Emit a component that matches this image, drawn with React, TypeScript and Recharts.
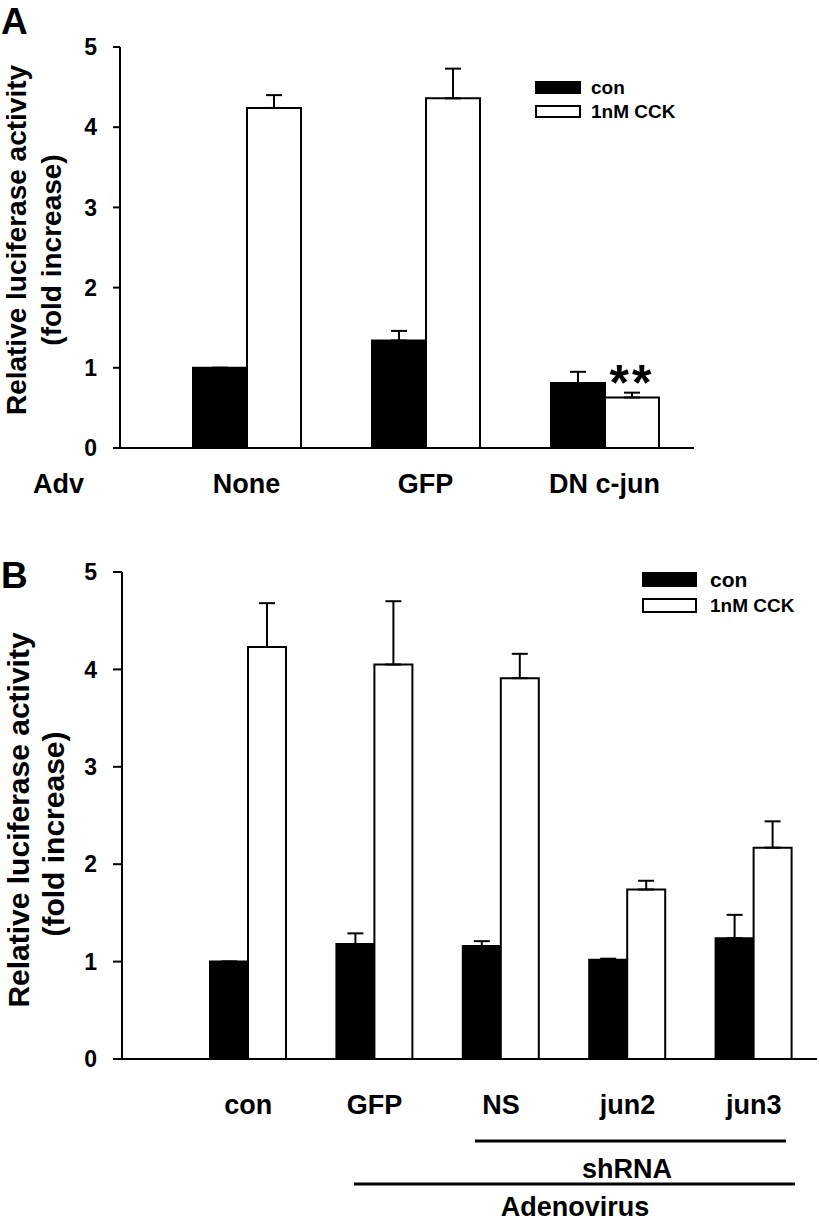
import React from 'react';
import { BarChart, Bar, XAxis, YAxis, ErrorBar, LabelList, Legend } from 'recharts';

const FONT = '"Liberation Sans", Arial, Helvetica, sans-serif';

// Panel A data
const categoriesA = ['None', 'GFP', 'DN c-jun'];
const conA = [1.0, 1.34, 0.81];
const conErrA = [0, 0.12, 0.14];
const cckA = [4.24, 4.36, 0.63];
const cckErrA = [0.16, 0.37, 0.06];
const sigA = ['', '', '**'];

// Panel B data
const categoriesB = ['con', 'GFP', 'NS', 'jun2', 'jun3'];
const conB = [1.0, 1.18, 1.16, 1.02, 1.24];
const conErrB = [0, 0.11, 0.05, 0.01, 0.24];
const cckB = [4.23, 4.05, 3.91, 1.74, 2.17];
const cckErrB = [0.45, 0.65, 0.25, 0.09, 0.27];

const yTicks = [0, 1, 2, 3, 4, 5];
const seriesNames = ['con', '1nM CCK'];
const seriesFill = ['#000', '#fff'];

const makeRows = (cats: string[], con: number[], conErr: number[], cck: number[], cckErr: number[], sig?: string[]) =>
  cats.map((c, i) => ({
    cat: c,
    con: con[i],
    conErr: [0, conErr[i]],
    cck: cck[i],
    cckErr: [0, cckErr[i]],
    sig: sig ? sig[i] : '',
  }));

const dataA = makeRows(categoriesA, conA, conErrA, cckA, cckErrA, sigA);
const dataB = makeRows(categoriesB, conB, conErrB, cckB, cckErrB);

const makeCatTick = (offset: number) => (props: any) => {
  const { x, y, payload } = props;
  return (
    <text x={x} y={y + offset} textAnchor="middle" fontSize={27} fontWeight="bold" fontFamily={FONT} fill="#000">
      {payload.value}
    </text>
  );
};

const SigLabel = (props: any) => {
  const { x, y, width, value } = props;
  if (!value) return null;
  return (
    <text x={Number(x) + Number(width) / 2} y={Number(y) + 3} textAnchor="middle" fontSize={50} fontWeight="bold" fontFamily={FONT} fill="#000" letterSpacing={3}>
      {value}
    </text>
  );
};

const makeLegend = (boxW: number, boxH: number, rowH: number, gap: number, fontSizes: number[]) => () => (
  <div style={{ fontFamily: FONT, fontWeight: 'bold', color: '#000' }}>
    {seriesNames.map((name, i) => (
      <div key={name} style={{ display: 'flex', alignItems: 'center', height: rowH }}>
        <div
          style={{
            width: boxW,
            height: boxH,
            boxSizing: 'border-box',
            background: seriesFill[i],
            border: '2px solid #000',
          }}
        />
        <span style={{ marginLeft: gap, fontSize: fontSizes[i], lineHeight: 1 }}>{name}</span>
      </div>
    ))}
  </div>
);

const yTickStyle = { fontSize: 23, fontWeight: 'bold', fill: '#000', fontFamily: FONT };
const lineStyle = { stroke: '#000', strokeWidth: 2 };

export default function App() {
  return (
    <div style={{ position: 'absolute', left: 0, top: 0, width: 819, height: 1221, background: '#fff' }}>
      {/* Panel A */}
      <div style={{ position: 'absolute', left: 0, top: 0 }}>
        <BarChart width={819} height={505} data={dataA} margin={{ top: 47, right: 125, bottom: 0, left: 0 }} barGap={0} barSize={54}>
          <XAxis
            dataKey="cat"
            type="category"
            height={57}
            padding={{ left: 37, right: 0 }}
            axisLine={lineStyle}
            tickLine={false}
            tickSize={0}
            tickMargin={0}
            tick={makeCatTick(45)}
            interval={0}
          />
          <YAxis
            width={120}
            domain={[0, 5]}
            ticks={yTicks}
            interval={0}
            tickSize={7}
            tickMargin={16}
            axisLine={lineStyle}
            tickLine={lineStyle}
            tick={yTickStyle}
          />
          <Legend
            layout="vertical"
            align="center"
            verticalAlign="middle"
            wrapperStyle={{ left: 535, top: 75, width: 200 }}
            content={makeLegend(46, 13, 24, 10, [19, 19])}
          />
          <Bar dataKey="con" name={seriesNames[0]} fill="#000" stroke="#000" strokeWidth={2} isAnimationActive={false}>
            <ErrorBar dataKey="conErr" width={8} stroke="#000" strokeWidth={2} direction="y" isAnimationActive={false} />
          </Bar>
          <Bar dataKey="cck" name={seriesNames[1]} fill="#fff" stroke="#000" strokeWidth={2} isAnimationActive={false}>
            <ErrorBar dataKey="cckErr" width={8} stroke="#000" strokeWidth={2} direction="y" isAnimationActive={false} />
            <LabelList dataKey="sig" content={SigLabel} />
          </Bar>
        </BarChart>
      </div>

      {/* Panel B */}
      <div style={{ position: 'absolute', left: 0, top: 520 }}>
        <BarChart width={819} height={640} data={dataB} margin={{ top: 52, right: 2, bottom: 0, left: 0 }} barGap={0} barSize={38}>
          <XAxis
            dataKey="cat"
            type="category"
            height={101}
            padding={{ left: 63, right: 0 }}
            axisLine={lineStyle}
            tickLine={false}
            tickSize={0}
            tickMargin={0}
            tick={makeCatTick(55)}
            interval={0}
          />
          <YAxis
            width={122}
            domain={[0, 5]}
            ticks={yTicks}
            interval={0}
            tickSize={9}
            tickMargin={16}
            axisLine={lineStyle}
            tickLine={lineStyle}
            tick={yTickStyle}
          />
          <Legend
            layout="vertical"
            align="center"
            verticalAlign="middle"
            wrapperStyle={{ left: 642, top: 46, width: 175 }}
            content={makeLegend(55, 15, 26, 13, [21, 19])}
          />
          <Bar dataKey="con" name={seriesNames[0]} fill="#000" stroke="#000" strokeWidth={2} isAnimationActive={false}>
            <ErrorBar dataKey="conErr" width={8} stroke="#000" strokeWidth={2} direction="y" isAnimationActive={false} />
          </Bar>
          <Bar dataKey="cck" name={seriesNames[1]} fill="#fff" stroke="#000" strokeWidth={2} isAnimationActive={false}>
            <ErrorBar dataKey="cckErr" width={8} stroke="#000" strokeWidth={2} direction="y" isAnimationActive={false} />
          </Bar>
        </BarChart>
      </div>

      {/* Annotations */}
      <svg width={819} height={1221} style={{ position: 'absolute', left: 0, top: 0, pointerEvents: 'none' }}>
        <g fontFamily={FONT} fontWeight="bold" fill="#000">
          <text x={1} y={34} fontSize={37}>A</text>
          <text x={1} y={588} fontSize={37}>B</text>
          <text x={33} y={493} fontSize={27}>Adv</text>

          <text transform="translate(26,240) rotate(-90)" textAnchor="middle" fontSize={28}>Relative luciferase activity</text>
          <text transform="translate(61,250) rotate(-90)" textAnchor="middle" fontSize={28}>(fold increase)</text>

          <text transform="translate(29,820) rotate(-90)" textAnchor="middle" fontSize={30}>Relative luciferase activity</text>
          <text transform="translate(64,834) rotate(-90)" textAnchor="middle" fontSize={30}>(fold increase)</text>

          <line x1={475} y1={1141} x2={786} y2={1141} stroke="#000" strokeWidth={3} />
          <text x={627} y={1178} textAnchor="middle" fontSize={27}>shRNA</text>
          <line x1={354} y1={1184} x2={795} y2={1184} stroke="#000" strokeWidth={3} />
          <text x={575} y={1216} textAnchor="middle" fontSize={27}>Adenovirus</text>
        </g>
      </svg>
    </div>
  );
}
